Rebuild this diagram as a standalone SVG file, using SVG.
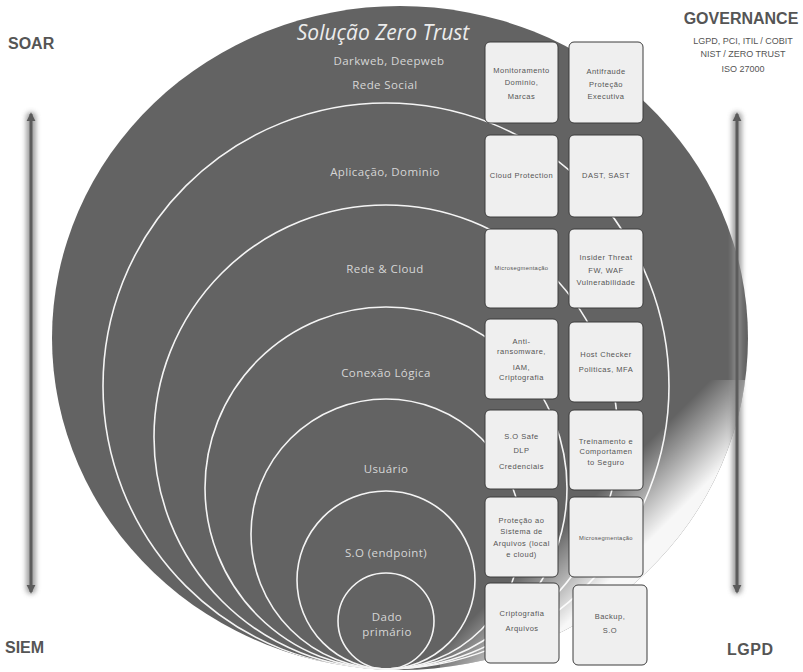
<svg xmlns="http://www.w3.org/2000/svg" width="803" height="672" viewBox="0 0 803 672">
  <defs>
    <style>
      .ring { fill: none; stroke: #f4f4f4; stroke-width: 1.6; }
      .lbl { font-family: "Open Sans", "Liberation Sans", sans-serif; font-size: 11.5px; fill: #d6d6d6; text-anchor: middle; letter-spacing: 0.4px; }
      .box rect { fill: #efefef; stroke: #3c3c3c; stroke-width: 1; }
      .box text { font-family: "Liberation Sans", sans-serif; font-size: 7.5px; fill: #555; text-anchor: middle; letter-spacing: 0.5px; }
      .box text.tiny { font-size: 5.8px; letter-spacing: 0.3px; }
      .side { font-family: "Liberation Sans", sans-serif; font-weight: bold; font-size: 16px; fill: #555; }
      .gov { font-family: "Liberation Sans", sans-serif; font-size: 9px; fill: #555; text-anchor: middle; }
      .axis { stroke: #5c5c5c; stroke-width: 3; fill: none; }
      .halo { fill: #8c8c8c; opacity: 0.8; }
    </style>
    <filter id="soft" filterUnits="userSpaceOnUse" x="0" y="0" width="803" height="672">
      <feGaussianBlur stdDeviation="2.5"/>
    </filter>
    <marker id="head" viewBox="0 0 10 10" refX="8" refY="5" markerWidth="3" markerHeight="3.2" orient="auto-start-reverse">
      <path d="M0,0 L10,5 L0,10 z" fill="#5c5c5c"/>
    </marker>
    <linearGradient id="shine" gradientUnits="userSpaceOnUse" x1="545" y1="545" x2="595" y2="595">
      <stop offset="0" stop-color="#ffffff" stop-opacity="0"/>
      <stop offset="1" stop-color="#ffffff" stop-opacity="0.95"/>
    </linearGradient>
    <clipPath id="discClip">
      <ellipse cx="400" cy="338" rx="348" ry="332"/>
    </clipPath>
  </defs>

  <rect width="803" height="672" fill="#ffffff"/>

  <!-- Main disc with nested layers, all touching at the bottom -->
  <g id="disc">
    <ellipse cx="400" cy="338" rx="348" ry="332" fill="#636363"/>
    <g clip-path="url(#discClip)">
      <circle class="ring" cx="386" cy="386" r="283"/>
      <circle class="ring" cx="386" cy="437" r="232"/>
      <circle class="ring" cx="386" cy="488" r="181"/>
      <circle class="ring" cx="386" cy="534" r="135"/>
      <circle class="ring" cx="386" cy="580" r="89"/>
      <circle class="ring" cx="386" cy="621" r="48"/>
      <rect x="440" y="380" width="363" height="292" fill="url(#shine)"/>
    </g>
  </g>

  <!-- Layer labels -->
  <g id="layer-labels">
    <text x="383" y="40" font-family="'Open Sans', 'Liberation Sans', sans-serif" font-style="italic" font-size="21" fill="#ececec" text-anchor="middle">Solução Zero Trust</text>
    <text class="lbl" x="389" y="65">Darkweb, Deepweb</text>
    <text class="lbl" x="385" y="89">Rede Social</text>
    <text class="lbl" x="385" y="176">Aplicação, Dominio</text>
    <text class="lbl" x="385" y="273">Rede &amp; Cloud</text>
    <text class="lbl" x="386" y="377">Conexão Lógica</text>
    <text class="lbl" x="386" y="473">Usuário</text>
    <text class="lbl" x="386" y="557">S.O (endpoint)</text>
    <text class="lbl" x="387" y="621">Dado</text>
    <text class="lbl" x="387" y="636">primário</text>
  </g>

  <!-- Control boxes, one per layer and column -->
  <g id="box-monitoramento" class="box">
    <rect x="485" y="42" width="73" height="81" rx="5"/>
    <text x="521.5" y="72.5">Monitoramento</text>
    <text x="521.5" y="85">Dominio,</text>
    <text x="521.5" y="98.5">Marcas</text>
  </g>
  <g id="box-antifraude" class="box">
    <rect x="569" y="42" width="74" height="81" rx="5"/>
    <text x="606" y="74">Antifraude</text>
    <text x="606" y="86.5">Proteção</text>
    <text x="606" y="99">Executiva</text>
  </g>
  <g id="box-cloud-protection" class="box">
    <rect x="485" y="135" width="73" height="82" rx="5"/>
    <text x="521.5" y="178" letter-spacing="0.2">Cloud Protection</text>
  </g>
  <g id="box-dast-sast" class="box">
    <rect x="569" y="135" width="74" height="82" rx="5"/>
    <text x="606" y="178">DAST, SAST</text>
  </g>
  <g id="box-microseg-rede" class="box">
    <rect x="485" y="229" width="73" height="79" rx="5"/>
    <text class="tiny" x="521.5" y="270">Microsegmentação</text>
  </g>
  <g id="box-insider" class="box">
    <rect x="569" y="229" width="74" height="79" rx="5"/>
    <text x="606" y="260">Insider Threat</text>
    <text x="606" y="272.5">FW, WAF</text>
    <text x="606" y="285">Vulnerabilidade</text>
  </g>
  <g id="box-antiransomware" class="box">
    <rect x="485" y="319" width="73" height="80" rx="5"/>
    <text x="521.5" y="343.5">Anti-</text>
    <text x="521.5" y="353.5">ransomware,</text>
    <text x="521.5" y="370">IAM,</text>
    <text x="521.5" y="380">Criptografia</text>
  </g>
  <g id="box-hostchecker" class="box">
    <rect x="569" y="322" width="74" height="80" rx="5"/>
    <text x="606" y="356.5">Host Checker</text>
    <text x="606" y="372">Politicas, MFA</text>
  </g>
  <g id="box-sosafe" class="box">
    <rect x="485" y="410" width="73" height="79" rx="5"/>
    <text x="521.5" y="439">S.O Safe</text>
    <text x="521.5" y="453">DLP</text>
    <text x="521.5" y="468.5">Credenciais</text>
  </g>
  <g id="box-treinamento" class="box">
    <rect x="569" y="410" width="74" height="80" rx="5"/>
    <text x="606" y="443.5">Treinamento e</text>
    <text x="606" y="454">Comportamen</text>
    <text x="606" y="465">to Seguro</text>
  </g>
  <g id="box-protecao-arquivos" class="box">
    <rect x="485" y="497" width="73" height="80" rx="5"/>
    <text x="521.5" y="522.5">Proteção ao</text>
    <text x="521.5" y="534">Sistema de</text>
    <text x="521.5" y="546">Arquivos (local</text>
    <text x="521.5" y="556.5">e cloud)</text>
  </g>
  <g id="box-microseg-so" class="box">
    <rect x="569" y="497" width="74" height="80" rx="5"/>
    <text class="tiny" x="606" y="540">Microsegmentação</text>
  </g>
  <g id="box-criptografia" class="box">
    <rect x="485" y="583" width="74" height="80" rx="5"/>
    <text x="522" y="616">Criptografia</text>
    <text x="522" y="631">Arquivos</text>
  </g>
  <g id="box-backup" class="box">
    <rect x="573" y="585" width="74" height="80" rx="5"/>
    <text x="610" y="619">Backup,</text>
    <text x="610" y="632.5">S.O</text>
  </g>

  <!-- Side axes with a soft glow behind them -->
  <g id="connectors">
    <rect class="halo" x="26" y="112" width="10" height="482" rx="5" filter="url(#soft)"/>
    <line class="axis" x1="31" y1="114" x2="31" y2="592" marker-start="url(#head)" marker-end="url(#head)"/>
    <rect class="halo" x="732" y="112" width="10" height="482" rx="5" filter="url(#soft)"/>
    <line class="axis" x1="737" y1="114" x2="737" y2="592" marker-start="url(#head)" marker-end="url(#head)"/>
  </g>

  <g id="soar"><text class="side" x="8" y="49">SOAR</text></g>
  <g id="siem"><text class="side" x="5" y="653">SIEM</text></g>
  <g id="lgpd"><text class="side" x="727" y="655" font-weight="normal" fill="#444" letter-spacing="0.5">LGPD</text></g>
  <g id="governance">
    <text class="side" x="741" y="24" text-anchor="middle">GOVERNANCE</text>
    <text class="gov" x="743" y="44">LGPD, PCI, ITIL / COBIT</text>
    <text class="gov" x="743" y="57">NIST / ZERO TRUST</text>
    <text class="gov" x="743" y="72">ISO 27000</text>
  </g>
</svg>
